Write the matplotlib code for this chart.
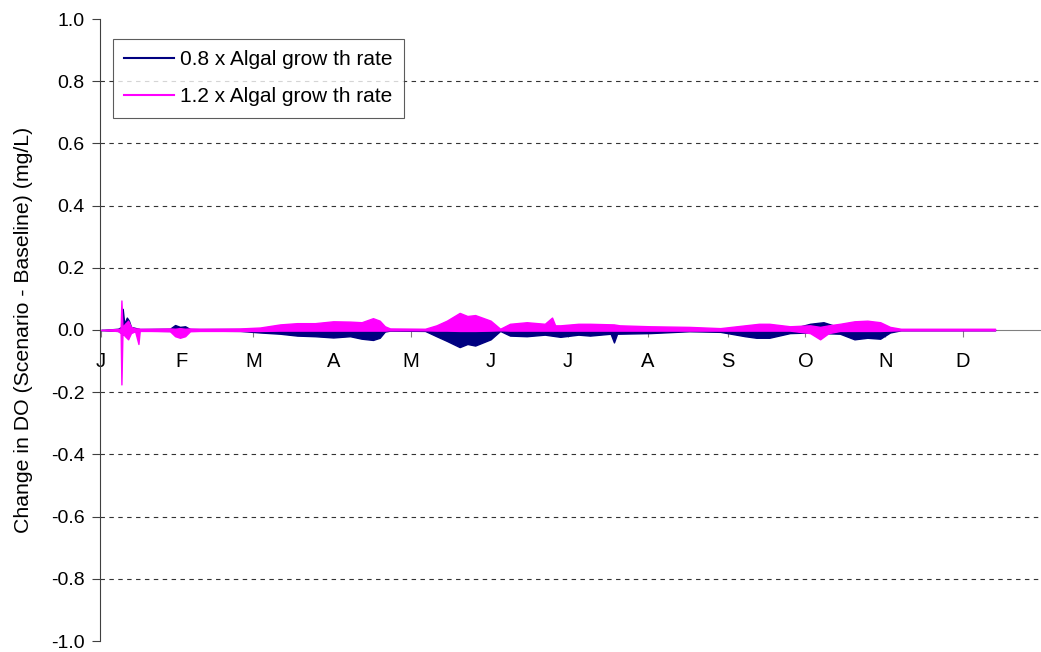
import numpy as np
import matplotlib.pyplot as plt

plt.rcParams['font.family'] = ['Liberation Sans', 'DejaVu Sans']
plt.rcParams['axes.unicode_minus'] = False

# month labels (day of year of first day)
month_days = [0, 31, 59, 90, 120, 151, 181, 212, 243, 273, 304, 334]
month_labels = ['J', 'F', 'M', 'A', 'M', 'J', 'J', 'A', 'S', 'O', 'N', 'D']
y_ticks = [-1.0, -0.8, -0.6, -0.4, -0.2, 0.0, 0.2, 0.4, 0.6, 0.8, 1.0]

# 0.8 x algal growth rate: envelope of the hourly DO change (mg/L)
low_days = [0, 3.5, 6.6, 7.9, 8.4, 9.0, 10.0, 10.8, 11.6, 15, 26.7, 28.7, 30.6,
            32.6, 34.5, 38.4, 53.9, 61.6, 69.4, 76, 82.9, 90, 96.5, 101, 105.4,
            108, 110, 112, 125.6, 130, 134, 139, 142, 145, 151, 154.7, 158.5,
            165, 172, 178, 185, 189.5, 197.5, 198.8, 200, 212.8, 228, 240,
            249.6, 254, 259, 267, 274.8, 280, 286.4, 292, 297, 302, 305.8,
            310, 346.5]
low_hi = [0, 0.002, 0.004, 0.01, 0.068, 0.02, 0.04, 0.03, 0.01, 0.003, 0.004,
          0.016, 0.01, 0.012, 0.003, 0.003, 0.003, 0.003, 0.004, 0.005, 0.005,
          0.005, 0.005, 0.005, 0.005, 0.004, 0.002, 0.001, 0.001, 0.002,
          0.003, 0.004, 0.004, 0.004, 0.003, 0.001, 0.003, 0.004, 0.004,
          0.004, 0.004, 0.004, 0.003, 0.003, 0.003, 0.003, 0.002, 0.002,
          0.003, 0.004, 0.004, 0.003, 0.02, 0.025, 0.008, 0.005, 0.005,
          0.005, 0.002, 0.001, 0.001]
low_lo = [0, -0.002, -0.003, -0.01, -0.015, -0.01, -0.02, -0.01, -0.005,
          -0.002, -0.003, -0.004, -0.006, -0.004, -0.002, -0.002, -0.003,
          -0.008, -0.012, -0.018, -0.02, -0.024, -0.02, -0.028, -0.032,
          -0.025, -0.005, -0.002, -0.003, -0.02, -0.035, -0.055, -0.045,
          -0.05, -0.03, -0.003, -0.018, -0.02, -0.015, -0.022, -0.015,
          -0.018, -0.012, -0.04, -0.012, -0.01, -0.004, -0.006, -0.02,
          -0.025, -0.025, -0.01, -0.008, -0.01, -0.012, -0.03, -0.025,
          -0.028, -0.008, -0.001, -0.001]

# 1.2 x algal growth rate
high_days = [0, 3.5, 6.6, 7.6, 7.9, 8.3, 9.3, 10.5, 11.6, 13.2, 14.5, 15.0,
             19, 26.7, 28.7, 30.6, 32.6, 34.5, 38.4, 53.9, 61.6, 69.4, 76,
             82.9, 90, 96.5, 101, 105.4, 108, 110, 112, 125.6, 130, 134, 139,
             142, 145, 151, 154.7, 158.5, 165, 172, 174.8, 176, 178, 185,
             189.5, 198.8, 201, 212.8, 228, 240, 249.6, 255, 259, 267, 274.8,
             278.7, 282, 286.4, 292, 297, 302, 305.8, 310, 346.5]
high_hi = [0, 0.002, 0.003, 0.005, 0.095, 0.01, 0.02, 0.03, 0.01, 0.005,
           0.005, 0.004, 0.004, 0.005, 0.004, 0.006, 0.004, 0.005, 0.004,
           0.005, 0.008, 0.018, 0.022, 0.022, 0.028, 0.027, 0.025, 0.038,
           0.03, 0.012, 0.005, 0.004, 0.015, 0.03, 0.055, 0.045, 0.048, 0.03,
           0.004, 0.02, 0.025, 0.02, 0.04, 0.015, 0.015, 0.02, 0.02, 0.018,
           0.015, 0.012, 0.01, 0.006, 0.015, 0.02, 0.02, 0.012, 0.015, 0.01,
           0.015, 0.02, 0.028, 0.03, 0.025, 0.01, 0.004, 0.004]
high_lo = [0, -0.002, -0.003, -0.01, -0.175, -0.01, -0.02, -0.03, -0.01,
           -0.004, -0.045, -0.003, -0.003, -0.004, -0.02, -0.025, -0.02,
           -0.004, -0.003, -0.003, -0.003, -0.002, -0.002, -0.002, -0.002,
           -0.002, -0.002, -0.002, -0.002, -0.002, -0.001, -0.001, -0.002,
           -0.002, -0.003, -0.003, -0.003, -0.002, -0.001, -0.002, -0.002,
           -0.002, -0.002, -0.002, -0.002, -0.002, -0.002, -0.002, -0.002,
           -0.002, -0.002, -0.002, -0.002, -0.002, -0.002, -0.002, -0.01,
           -0.03, -0.01, -0.003, -0.003, -0.003, -0.003, -0.002, -0.001,
           -0.001]

navy = '#000080'
pink = '#FF00FF'

fig = plt.figure(figsize=(10.41, 6.52), dpi=100)
ax = fig.add_axes([100 / 1041, 11 / 652, 941 / 1041, 622 / 652])

# dashed grid, skipping the zero line and the ends
for g in [-0.8, -0.6, -0.4, -0.2, 0.2, 0.4, 0.6, 0.8]:
    ax.axhline(g, color='#333333', lw=0.8, ls=(0, (4, 4)), zorder=1)

ax.fill_between(low_days, low_lo, low_hi, color=navy, lw=1.0, zorder=3)
ax.fill_between(high_days, high_lo, high_hi, color=pink, lw=1.0, zorder=4)
ax.plot([], [], color=navy, lw=1.5, label='0.8 x Algal grow th rate')
ax.plot([], [], color=pink, lw=1.5, label='1.2 x Algal grow th rate')

ax.set_xlim(-0.4, 364.3)
ax.set_ylim(-1.0, 1.0)

ax.spines['top'].set_visible(False)
ax.spines['right'].set_visible(False)
ax.spines['bottom'].set_position(('data', 0))
ax.spines['bottom'].set_color('#808080')
ax.spines['bottom'].set_zorder(2)
ax.spines['left'].set_color('#404040')

ax.set_xticks(month_days)
ax.set_xticklabels(month_labels)
ax.tick_params(axis='x', direction='out', length=5, color='#808080',
               labelsize=14.5, pad=11)
ax.set_yticks(y_ticks)
ax.set_yticklabels([f'{v:.1f}' for v in y_ticks])
ax.tick_params(axis='y', direction='out', length=6, color='#404040',
               labelsize=14, pad=5)

ax.set_ylabel('Change in DO (Scenario - Baseline) (mg/L)', fontsize=15.3,
              labelpad=13)

leg = ax.legend(loc='upper left', bbox_to_anchor=(0.0138, 0.968),
                borderaxespad=0, fontsize=15, handlelength=2.4,
                fancybox=False, frameon=True, labelspacing=0.85,
                handletextpad=0.25, borderpad=0.55)
leg.get_frame().set_edgecolor('#333333')
leg.get_frame().set_linewidth(0.8)

fig.savefig('out.png', dpi=100)
